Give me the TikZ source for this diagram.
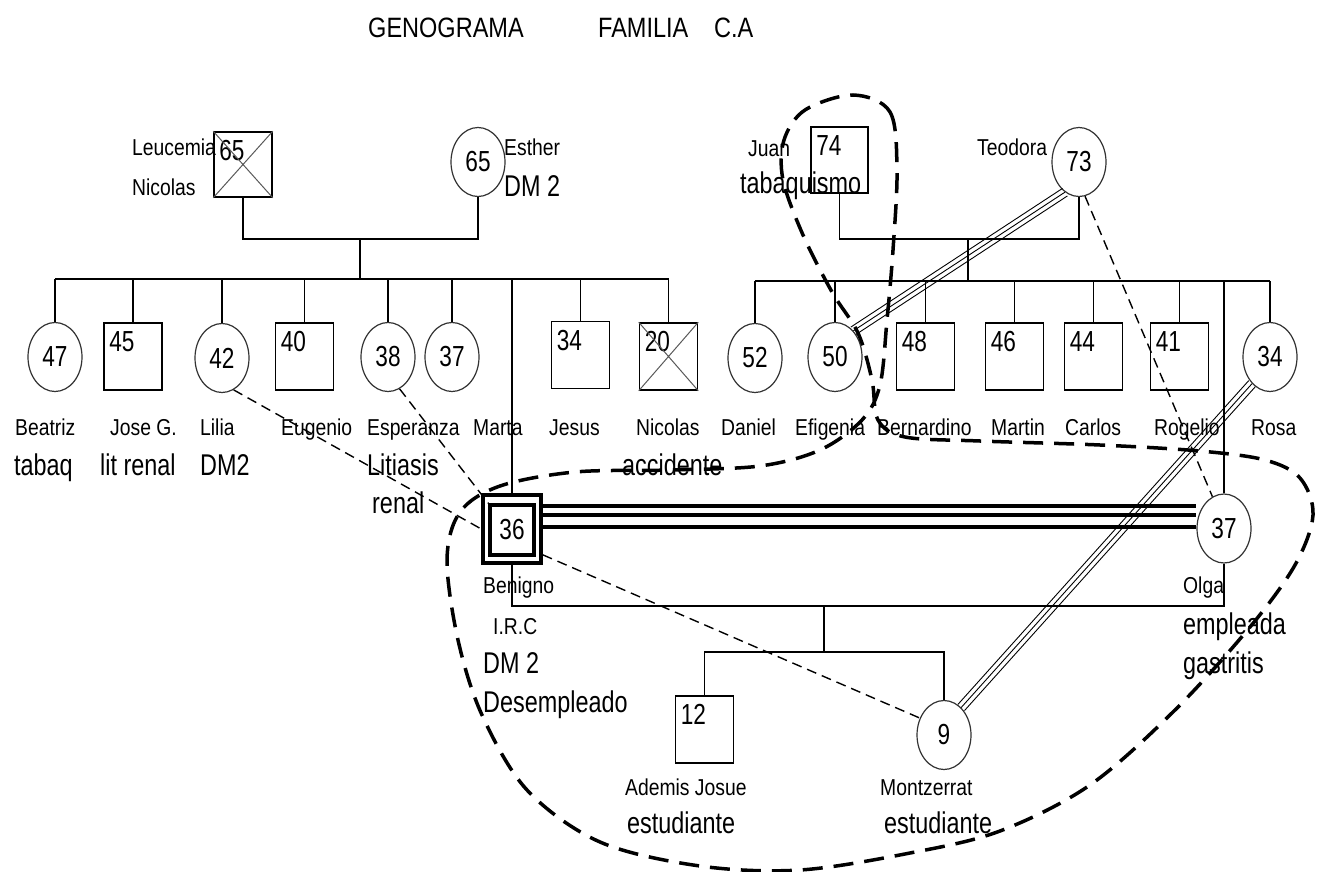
\documentclass[tikz,border=0pt]{standalone}
\usepackage{fontspec}
\setmainfont{Liberation Sans}
\newfontfamily\fsmall[FakeStretch=0.84]{Liberation Sans}
\newfontfamily\flarge[FakeStretch=0.78]{Liberation Sans}
\newcommand\sizeS{\fsmall\fontsize{23}{26}\selectfont}
\newcommand\sizeL{\flarge\fontsize{30}{33}\selectfont}
\newcommand\sizeN{\flarge\fontsize{29}{30}\selectfont}
\newcommand\sizeT{\fsmall\fontsize{28}{30}\selectfont}
\usetikzlibrary{shapes.geometric,calc}
\tikzset{
 fam/.style={line width=1.6pt},
 sq/.style={draw, rectangle, line width=1.6pt, minimum width=58pt, minimum height=67pt, inner sep=0pt},
 numlbl/.style={anchor=north west, inner sep=0pt, font=\sizeN, xshift=6pt, yshift=-9pt},
 sqn/.style={sq, label={[numlbl]north west:#1}},
 ci/.style={draw=black!80, ellipse, line width=1.2pt, minimum width=54pt, minimum height=69pt, inner sep=0pt, font=\sizeN},
 xl/.style={draw=black!65, line width=1pt},
 ts/.style={anchor=base west, inner sep=0pt, font=\sizeS},
 tl/.style={anchor=base west, inner sep=0pt, font=\sizeL},
 tt/.style={anchor=base west, inner sep=0pt, font=\sizeT},
 dsh/.style={line width=1.4pt, dash pattern=on 10pt off 6pt},
 thin3/.style={line width=0.9pt},
 thick3/.style={line width=3.2pt},
 bound/.style={line width=3.5pt, dash pattern=on 20pt off 11pt},
}
\newcommand\tripleline[2]{%
 \draw[thin3] ($(#1)!4.5pt!90:(#2)$) -- ($(#2)!4.5pt!-90:(#1)$);
 \draw[thin3] (#1) -- (#2);
 \draw[thin3] ($(#1)!4.5pt!-90:(#2)$) -- ($(#2)!4.5pt!90:(#1)$);}
\begin{document}
\begin{tikzpicture}[x=1pt,y=-1pt]
\useasboundingbox (0,0) rectangle (1319,872);
% title
\node[tt] (tA) at (368,38) {GENOGRAMA};
\node[tt] (tB) at (598,38) {FAMILIA};
\node[tt] (tC) at (714,38) {C.A};
% generation 1
\node[sqn=65, minimum height=65pt] (nic1) at (243,164.5) {};
\draw[xl] (nic1.north west) -- (nic1.south east) (nic1.north east) -- (nic1.south west);
\node[ci] (est) at (478,162) {65};
\node[tl] (tjuan2) at (740,193) {tabaquismo};
\node[sqn=74, minimum width=57pt, minimum height=66pt] (juan) at (839.5,160) {};
\node[ci] (teo) at (1079,162) {73};
\node[ts] (t1) at (132,155) {Leucemia};
\node[ts] (t2) at (132,195) {Nicolas};
\node[ts] (t3) at (504,155) {Esther};
\node[tl] (t4) at (504,196) {DM 2};
\node[ts] (t5) at (748,156) {Juan};
\node[ts] (t6) at (977,155) {Teodora};
% generation 2
\node[ci] (bea) at (55,357) {47};
\node[sqn=45] (jose) at (133,356.5) {};
\node[ci] (lil) at (222,358) {42};
\node[sqn=40] (eug) at (304.5,356.5) {};
\node[ci] (esp) at (388,357) {38};
\node[ci] (c37) at (452,357) {37};
\node[sqn=34] (jes) at (580.5,355) {};
\node[sqn=20] (nic2) at (668.5,356.5) {};
\draw[xl] (nic2.north west) -- (nic2.south east) (nic2.north east) -- (nic2.south west);
\node[ci] (dan) at (755,358) {52};
\node[ci] (efi) at (835,357) {50};
\node[sqn=48] (ber) at (925.5,356.5) {};
\node[sqn=46] (mar) at (1014.5,356.5) {};
\node[sqn=44] (car) at (1093.5,356.5) {};
\node[sqn=41] (rog) at (1179.5,356.5) {};
\node[ci] (rosa) at (1270,357) {34};
% names row
\node[ts] (n1) at (15,435) {Beatriz};
\node[ts] (n2) at (110,435) {Jose G.};
\node[ts] (n3) at (200,435) {Lilia};
\node[ts] (n4) at (281,435) {Eugenio};
\node[ts] (n5) at (367,435) {Esperanza};
\node[ts] (n6) at (473,435) {Marta};
\node[ts] (n7) at (549,435) {Jesus};
\node[ts] (n8) at (636,435) {Nicolas};
\node[ts] (n9) at (721,435) {Daniel};
\node[ts] (n10) at (795,435) {Efigenia};
\node[ts] (n11) at (877,435) {Bernardino};
\node[ts] (n12) at (991,435) {Martin};
\node[ts] (n13) at (1065,435) {Carlos};
\node[ts] (n14) at (1154,435) {Rogelio};
\node[ts] (n15) at (1251,435) {Rosa};
\node[tl] (d1) at (14,475) {tabaq};
\node[tl] (d2) at (100,475) {lit renal};
\node[tl] (d3) at (200,475) {DM2};
\node[tl] (d4) at (367,475) {Litiasis};
\node[tl] (d5) at (372,513) {renal};
\node[tl] (d6) at (622,475) {accidente};
% generation 3
\node[draw, rectangle, line width=3.5pt, minimum width=58pt, minimum height=68pt, inner sep=0pt] (ben) at (512,529) {};
\node[draw, rectangle, line width=3.5pt, minimum width=44pt, minimum height=50pt, inner sep=0pt, font=\sizeN] (beni) at (512,530) {36};
\node[ci] (olga) at (1224,528.5) {37};
\node[ts] (b1) at (483,593) {Benigno};
\node[ts] (b2) at (493,634) {I.R.C};
\node[tl] (b3) at (483,673) {DM 2};
\node[tl] (b4) at (483,712) {Desempleado};
\node[ts] (o1) at (1183,593) {Olga};
\node[tl] (o2) at (1183,634) {empleada};
\node[tl] (o3) at (1183,673) {gastritis};
% generation 4
\node[sqn=12] (ade) at (704.5,729.5) {};
\node[ci] (mon) at (944,735) {9};
\node[ts] (a1) at (625,795) {Ademis Josue};
\node[tl] (a2) at (627,833) {estudiante};
\node[ts] (m1t) at (880,795) {Montzerrat};
\node[tl] (m2t) at (884,833) {estudiante};
% family lines
\coordinate (mA) at (0,239);
\coordinate (sibL) at (0,279);
\coordinate (sibR) at (0,281);
\coordinate (mC) at (0,606);
\coordinate (sibC) at (0,652);
\coordinate (c1) at (360,239);
\coordinate (c2) at (968,239);
\coordinate (c3) at (824,606);
\draw[fam] (nic1.south) -- (nic1.south |- mA) -- (est.south |- mA) -- (est.south);
\draw[fam] (c1) -- (c1 |- sibL);
\draw[fam] (bea.north |- sibL) -- (nic2.north |- sibL);
\foreach \n in {bea,jose,lil,eug,esp,c37,jes,nic2} \draw[fam] (\n.north) -- (\n.north |- sibL);
\draw[fam] (ben.north) -- (ben.north |- sibL);
\draw[fam] (juan.south) -- (juan.south |- mA) -- (teo.south |- mA) -- (teo.south);
\draw[fam] (c2) -- (c2 |- sibR);
\draw[fam] (dan.north |- sibR) -- (rosa.north |- sibR);
\foreach \n in {dan,efi,ber,mar,car,rog,rosa,olga} \draw[fam] (\n.north) -- (\n.north |- sibR);
\draw[fam] (ben.south) -- (ben.south |- mC) -- (olga.south |- mC) -- (olga.south);
\draw[fam] (c3) -- (c3 |- sibC);
\draw[fam] (ade.north) -- (ade.north |- sibC) -- (mon.north |- sibC) -- (mon.north);
% marriage Benigno - Olga
\foreach \s in {23,14,2} \draw[thick3] ([yshift=\s pt]ben.east) -- ([yshift=\s pt]ben.east -| olga.west);
% relationship lines
\draw[dsh] (lil.290) -- (ben.west);
\draw[dsh] (esp.290) -- (beni.north west);
\draw[dsh] (ben.-40) -- (mon.145);
\draw[dsh] (teo.-80) -- (olga.110);
\tripleline{teo.245}{efi.55}
\tripleline{rosa.236}{mon.58}
% household boundary
\draw[bound] plot[smooth cycle, tension=0.55] coordinates {
 (853,95) (890,112) (897,170) (893,250) (887,320) (880,385) (862,420) (820,450)
 (760,466) (670,470) (575,472) (500,486) (460,512) (447,560) (458,640) (482,715)
 (527,790) (600,842) (700,866) (800,870) (910,853) (1000,831) (1090,785) (1175,710)
 (1250,627) (1295,565) (1313,515) (1300,478) (1265,460) (1200,451) (1100,445) (980,441)
 (905,437) (878,420) (872,380) (858,333) (832,292) (803,235) (783,180) (784,140) (805,110)};
\end{tikzpicture}
\end{document}
